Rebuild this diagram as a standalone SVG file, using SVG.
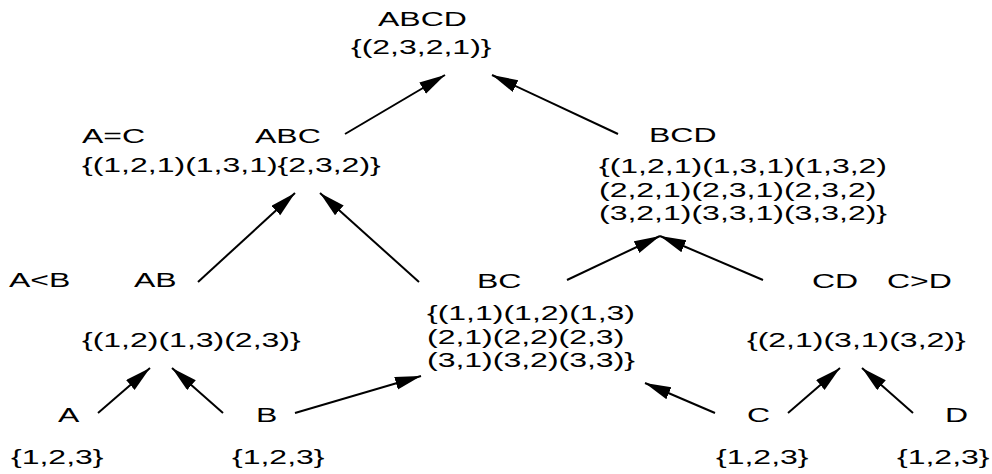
<svg xmlns="http://www.w3.org/2000/svg" width="992" height="474" viewBox="0 0 992 474">
<style>
text{font-family:"Liberation Sans",Arial,sans-serif;font-size:20px;fill:#000}
.edge{stroke:#000;stroke-width:2;fill:none;marker-end:url(#ah)}
</style>
<defs>
<marker id="ah" markerUnits="userSpaceOnUse" markerWidth="28" markerHeight="14" refX="26" refY="6.5" orient="auto">
<path d="M0,0 L26,6.5 L0,13 Z" fill="#000"/>
</marker>
</defs>
<rect width="992" height="474" fill="#fff"/>
<g id="connectors">
<line class="edge" x1="345" y1="134" x2="445" y2="75"/>
<line class="edge" x1="618" y1="134" x2="492" y2="75"/>
<line class="edge" x1="198" y1="282" x2="295" y2="193"/>
<line class="edge" x1="419" y1="282" x2="320" y2="193"/>
<line class="edge" x1="567" y1="280" x2="660" y2="236"/>
<line class="edge" x1="763" y1="280" x2="660" y2="236"/>
<line class="edge" x1="98" y1="413" x2="150" y2="368"/>
<line class="edge" x1="223" y1="413" x2="172" y2="368"/>
<line class="edge" x1="295" y1="413" x2="421" y2="376"/>
<line class="edge" x1="715" y1="413" x2="645" y2="383"/>
<line class="edge" x1="788" y1="413" x2="840" y2="368"/>
<line class="edge" x1="913" y1="413" x2="862" y2="368"/>
</g>
<g id="ABCD">
<text transform="translate(378,26) scale(1.6,1)">ABCD</text>
<text transform="translate(351,54) scale(1.6,1)">{(2,3,2,1)}</text>
</g>
<g id="ABC">
<text transform="translate(82,143) scale(1.6,1)">A=C</text>
<text transform="translate(255,143) scale(1.6,1)">ABC</text>
<text transform="translate(82,172) scale(1.6,1)">{(1,2,1)(1,3,1){2,3,2)}</text>
</g>
<g id="BCD">
<text transform="translate(649,142) scale(1.6,1)">BCD</text>
<text transform="translate(599,173) scale(1.6,1)">{(1,2,1)(1,3,1)(1,3,2)</text>
<text transform="translate(599,196.5) scale(1.6,1)">(2,2,1)(2,3,1)(2,3,2)</text>
<text transform="translate(599,220) scale(1.6,1)">(3,2,1)(3,3,1)(3,3,2)}</text>
</g>
<g id="AB">
<text transform="translate(9,287) scale(1.6,1)">A&lt;B</text>
<text transform="translate(134,287) scale(1.6,1)">AB</text>
<text transform="translate(82,347) scale(1.6,1)">{(1,2)(1,3)(2,3)}</text>
</g>
<g id="BC">
<text transform="translate(477,288) scale(1.6,1)">BC</text>
<text transform="translate(427,320) scale(1.6,1)">{(1,1)(1,2)(1,3)</text>
<text transform="translate(427,343.5) scale(1.6,1)">(2,1)(2,2)(2,3)</text>
<text transform="translate(427,367) scale(1.6,1)">(3,1)(3,2)(3,3)}</text>
</g>
<g id="CD">
<text transform="translate(812,288) scale(1.6,1)">CD</text>
<text transform="translate(887,288) scale(1.6,1)">C&gt;D</text>
<text transform="translate(747,347) scale(1.6,1)">{(2,1)(3,1)(3,2)}</text>
</g>
<g id="A">
<text transform="translate(58,422) scale(1.6,1)">A</text>
<text transform="translate(11,464) scale(1.6,1)">{1,2,3}</text>
</g>
<g id="B">
<text transform="translate(256,422) scale(1.6,1)">B</text>
<text transform="translate(232,464) scale(1.6,1)">{1,2,3}</text>
</g>
<g id="C">
<text transform="translate(747,422) scale(1.6,1)">C</text>
<text transform="translate(716,464) scale(1.6,1)">{1,2,3}</text>
</g>
<g id="D">
<text transform="translate(945,422) scale(1.6,1)">D</text>
<text transform="translate(897,464) scale(1.6,1)">{1,2,3}</text>
</g>
</svg>
